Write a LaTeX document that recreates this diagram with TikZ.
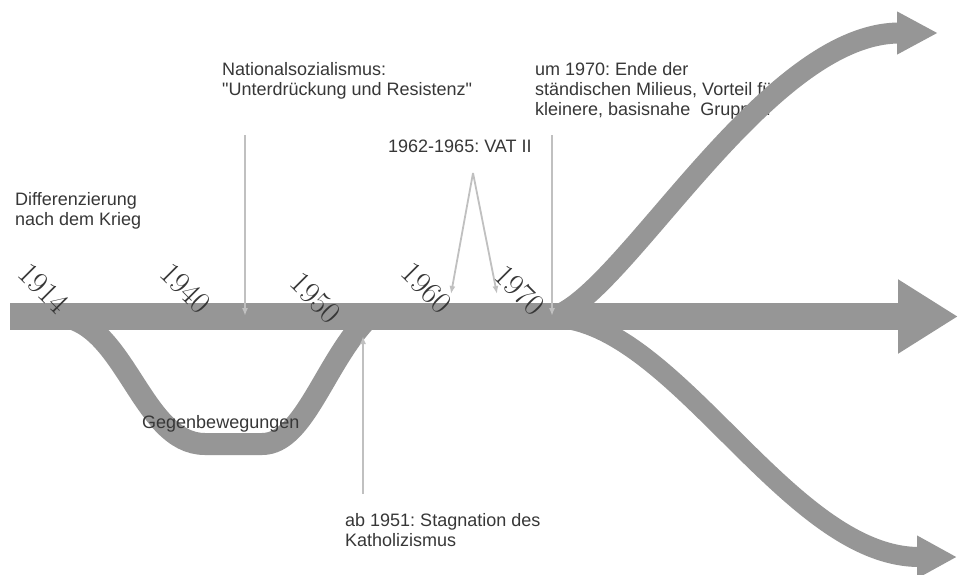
\documentclass[tikz,border=0pt]{standalone}
\usepackage{fontspec}
\setmainfont{Liberation Sans}
\newfontfamily\yearfont{Latin Modern Roman}
\usetikzlibrary{arrows.meta}
\definecolor{bandgray}{RGB}{150,150,150}
\definecolor{pointgray}{RGB}{192,192,192}
\definecolor{textgray}{RGB}{55,55,55}
\frenchspacing

\begin{document}
\begin{tikzpicture}[
  x=1pt, y=-1pt,
  band/.style={draw=bandgray, line width=#1},
  band/.default=22pt,
  pointer/.style={draw=pointgray, line width=1.8pt, -{Latex[length=8pt,width=6pt]}},
  note/.style={font=\fontsize{18}{20}\selectfont, text=textgray, align=left, anchor=base west, inner sep=0pt},
  year/.style={font=\yearfont\fontsize{31}{31}\selectfont, text=textgray, rotate=-45, inner sep=0pt},
]
\useasboundingbox[fill=white] (0,0) rectangle (961,574);

% note under the upper branch (anchored at its last line)
\node[note] (milieu) at (535,115) {um 1970: Ende der\\st\"andischen Milieus, Vorteil f\"ur\\kleinere, basisnahe\ \ Gruppen};

% main time line and branches
\draw[band=27pt, -{Triangle[length=60pt,width=70pt]}] (10,316.5) -- (958,316.5);
\draw[band=21pt, -{Triangle[length=41pt,width=40pt]}] (545,318) .. controls (612,318) and (760,33) .. (938,33);
\draw[band=20pt, -{Triangle[length=40pt,width=40pt]}] (560,318) .. controls (680,330) and (790,557) .. (957,557);
\draw[band] (55,316) .. controls (125,316) and (140,444) .. (205,444)
  -- (262,444) .. controls (305,444) and (325,360) .. (370,316);

% year marks
\node[year] (y1914) at (44,288) {1914};
\node[year] (y1940) at (186,288) {1940};
\node[year] (y1950) at (316,298) {1950};
\node[year] (y1960) at (427,288) {1960};
\node[year] (y1970) at (520,290) {1970};

% notes
\node[note] (ns) at (222,95) {Nationalsozialismus:\\\textquotedbl Unterdr\"uckung und Resistenz\textquotedbl};
\node[note] (vat) at (388,152) {1962-1965: VAT II};
\node[note] (diff) at (15,225) {Differenzierung\\nach dem Krieg};
\node[note] (gegen) at (142,428) {Gegenbewegungen};
\node[note] (stag) at (345,546) {ab 1951: Stagnation des\\Katholizismus};

% pointers
\coordinate (nsTop) at (245,135);
\coordinate (nsEnd) at (245,316);
\coordinate (vatTop) at (473,173);
\coordinate (vatL) at (451,294);
\coordinate (vatR) at (497,294);
\coordinate (milTop) at (552,135);
\coordinate (milEnd) at (552,316);
\coordinate (stagBot) at (363,494);
\coordinate (stagEnd) at (363,336);
\draw[pointer] (nsTop) -- (nsEnd);
\draw[pointer] (milTop) -- (milEnd);
\draw[pointer] (stagBot) -- (stagEnd);
\draw[pointer] (vatTop) -- (vatL);
\draw[pointer] (vatTop) -- (vatR);
\end{tikzpicture}
\end{document}
